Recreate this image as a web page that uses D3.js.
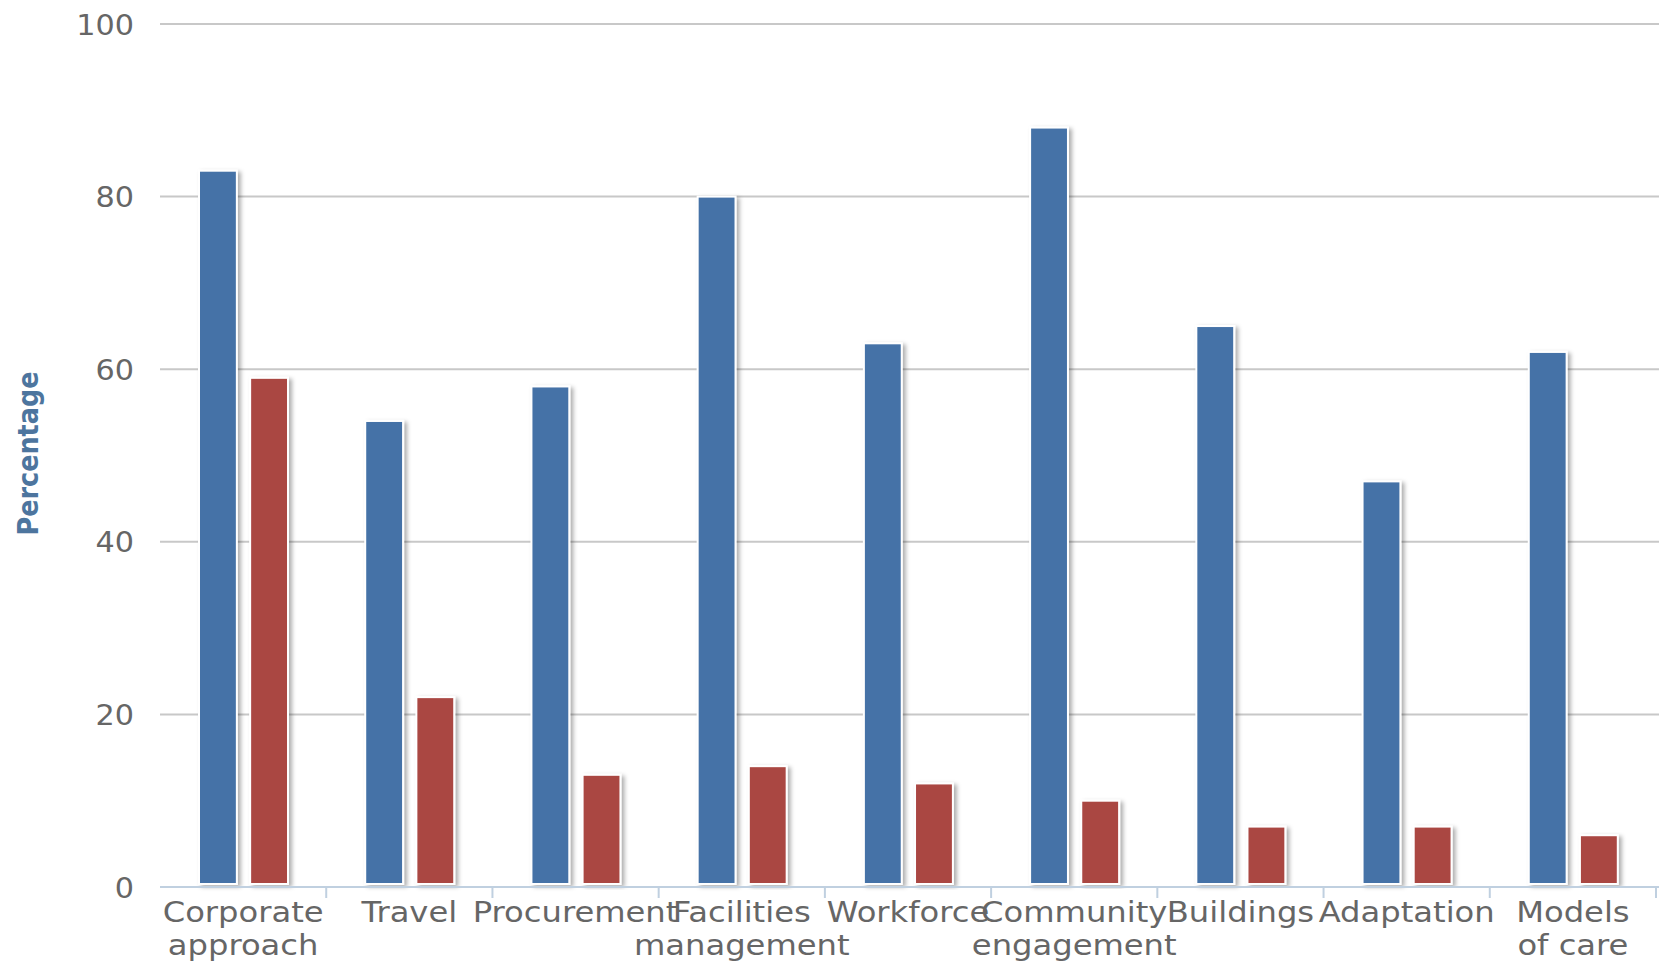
<!DOCTYPE html>
<html>
<head>
<meta charset="utf-8">
<script src="https://cdn.jsdelivr.net/npm/d3@7"></script>
<style>
  html, body { margin: 0; padding: 0; background: #fff; }
  svg { display: block; }
</style>
</head>
<body>
<svg id="chart" width="1659" height="961"></svg>
<script>
// Categories and their wrapped label lines
const categories = [
  "Corporate approach", "Travel", "Procurement", "Facilities management",
  "Workforce", "Community engagement", "Buildings", "Adaptation", "Models of care"
];
const categoryLines = [
  ["Corporate", "approach"], ["Travel"], ["Procurement"], ["Facilities", "management"],
  ["Workforce"], ["Community", "engagement"], ["Buildings"], ["Adaptation"], ["Models", "of care"]
];

// Two series of percentages per category
const seriesNames = ["Series 1", "Series 2"];
const seriesA = [83, 54, 58, 80, 63, 88, 65, 47, 62];
const seriesB = [59, 22, 13, 14, 12, 10, 7, 7, 6];
const seriesColors = ["#4572A7", "#AA4643"];

const yTicks = [0, 20, 40, 60, 80, 100];
const yTitle = "Percentage";

const svg = d3.select("#chart");
const plotLeft = 160, plotRight = 1656, plotTop = 24, plotBottom = 887;

const x = d3.scaleBand().domain(categories).range([plotLeft, plotRight]).padding(0);
const x1 = d3.scaleBand().domain(seriesNames).range([39, 128]).paddingInner(0.26);
const y = d3.scaleLinear().domain([0, 100]).range([plotBottom, plotTop]);

const font = "'DejaVu Sans', Verdana, sans-serif";

// Drop shadow used by the columns
const defs = svg.append("defs");
const f = defs.append("filter").attr("id", "colShadow")
  .attr("x", "-30%").attr("y", "-5%").attr("width", "160%").attr("height", "110%");
f.append("feDropShadow").attr("dx", 3).attr("dy", 2).attr("stdDeviation", 2.2)
  .attr("flood-color", "#000").attr("flood-opacity", 0.32);

// Horizontal grid lines
svg.append("g")
  .selectAll("line").data(yTicks.filter(d => d > 0)).join("line")
  .attr("x1", plotLeft).attr("x2", 1659)
  .attr("y1", d => y(d)).attr("y2", d => y(d))
  .attr("stroke", "#C8C8C8").attr("stroke-width", 2);

// Y axis labels
const yAxis = d3.axisLeft(y).tickValues(yTicks).tickSize(0).tickPadding(0);
const gy = svg.append("g").attr("transform", "translate(134,0)").call(yAxis);
gy.select(".domain").remove();
gy.selectAll("text")
  .attr("font-family", font).attr("font-size", 28).attr("fill", "#666")
  .attr("x", 0).attr("dy", "0.36em")
  .attr("text-anchor", "end")
  .attr("transform", "scale(1.08,1)");

// Y axis title
svg.append("text")
  .attr("transform", `translate(38,${(plotTop + plotBottom) / 2 - 2}) rotate(-90) scale(1.02,1.15)`)
  .attr("text-anchor", "middle")
  .attr("font-family", font).attr("font-size", 25).attr("font-weight", "bold")
  .attr("fill", "#4d759e")
  .text(yTitle);

// Columns
const data = categories.map((c, i) => ({ c, values: [seriesA[i], seriesB[i]] }));
const groups = svg.append("g").selectAll("g").data(data).join("g")
  .attr("transform", d => `translate(${x(d.c)},0)`);
groups.selectAll("rect")
  .data(d => d.values.map((v, k) => ({ v, k })))
  .join("rect")
  .attr("x", d => x1(seriesNames[d.k]))
  .attr("width", x1.bandwidth())
  .attr("y", d => y(d.v))
  .attr("height", d => y(0) - 3 - y(d.v))
  .attr("fill", d => seriesColors[d.k])
  .attr("stroke", "#fff").attr("stroke-width", 2)
  .attr("filter", "url(#colShadow)");

// X axis line and tick marks at category boundaries
svg.append("line")
  .attr("x1", plotLeft).attr("x2", 1659).attr("y1", plotBottom).attr("y2", plotBottom)
  .attr("stroke", "#C0D0E0").attr("stroke-width", 2);
svg.append("g").selectAll("line").data(categories).join("line")
  .attr("x1", d => x(d) + x.bandwidth()).attr("x2", d => x(d) + x.bandwidth())
  .attr("y1", plotBottom).attr("y2", plotBottom + 11)
  .attr("stroke", "#C0D0E0").attr("stroke-width", 2);

// X axis labels
const labels = svg.append("g").selectAll("text").data(categories).join("text")
  .attr("transform", d => `translate(${x(d) + x.bandwidth() / 2},922) scale(1.15,1)`)
  .attr("text-anchor", "middle")
  .attr("font-family", font).attr("font-size", 28).attr("fill", "#666");
labels.each(function(d, i) {
  d3.select(this).selectAll("tspan").data(categoryLines[i]).join("tspan")
    .attr("x", 0).attr("y", (t, j) => j * 33)
    .text(t => t);
});
</script>
</body>
</html>
